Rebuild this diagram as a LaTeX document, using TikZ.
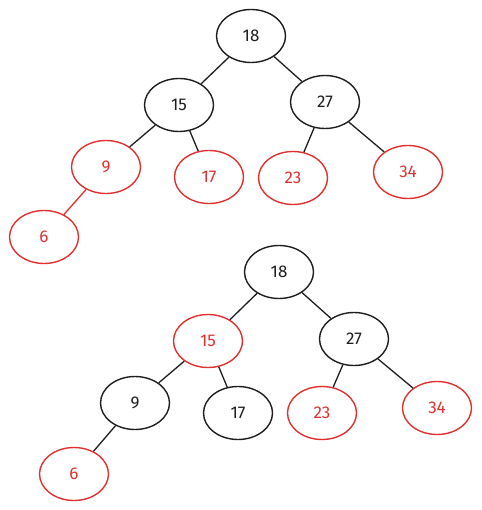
\documentclass[tikz,border=0pt]{standalone}
\usepackage{fontspec}
\setmainfont{Fira Sans}
\usetikzlibrary{shapes.geometric}
\definecolor{inkblack}{HTML}{1E1E1E}
\definecolor{inkred}{HTML}{E03131}
\begin{document}
\begin{tikzpicture}[x=1pt,y=-1pt,
  tnode/.style={ellipse,draw,line width=1.4pt,minimum width=69pt,minimum height=53pt,inner sep=0pt,font=\fontsize{17}{17}\selectfont},
  blk/.style={tnode,draw=inkblack,text=inkblack},
  rd/.style={tnode,draw=inkred,text=inkred},
  edge/.style={line width=1.3pt,draw=inkblack},
  redge/.style={line width=1.3pt,draw=inkred}]
\useasboundingbox (0,0) rectangle (481,510);
% top tree
\node[blk] (a18) at (251,36) {18};
\node[blk] (a15) at (179,105) {15};
\node[blk] (a27) at (325,102) {27};
\node[rd] (a9) at (106,167) {9};
\node[rd] (a17) at (209,177) {17};
\node[rd] (a23) at (293,178) {23};
\node[rd] (a34) at (408,172) {34};
\node[rd] (a6) at (44,237) {6};
\draw[edge] (a18) -- (a15);
\draw[edge] (a18) -- (a27);
\draw[edge] (a15) -- (a9);
\draw[edge] (a15) -- (a17);
\draw[edge] (a27) -- (a23);
\draw[edge] (a27) -- (a34);
\draw[redge] (a9) -- (a6);
% bottom tree
\node[blk] (b18) at (279,272) {18};
\node[rd] (b15) at (208,341) {15};
\node[blk] (b27) at (354,339) {27};
\node[blk] (b9) at (135,403) {9};
\node[blk] (b17) at (238,413) {17};
\node[rd] (b23) at (322,413) {23};
\node[rd] (b34) at (437,408) {34};
\node[rd] (b6) at (74,474) {6};
\draw[edge] (b18) -- (b15);
\draw[edge] (b18) -- (b27);
\draw[edge] (b15) -- (b9);
\draw[edge] (b15) -- (b17);
\draw[edge] (b27) -- (b23);
\draw[edge] (b27) -- (b34);
\draw[edge] (b9) -- (b6);
\end{tikzpicture}
\end{document}
